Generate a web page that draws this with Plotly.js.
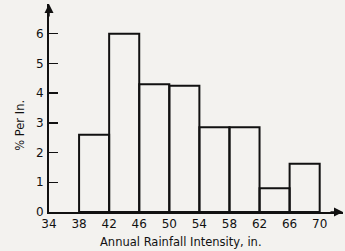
<!DOCTYPE html>
<html>
<head>
<meta charset="utf-8">
<script src="https://cdn.plot.ly/plotly-3.0.1.min.js"></script>
<style>html,body{margin:0;padding:0;background:#f3f2ef;}#chart{width:345px;height:251px;}</style>
</head>
<body>
<div id="chart"></div>
<script>
// Bin edges (in.) and densities (% per in.)
const binStarts = [38, 42, 46, 50, 54, 58, 62, 66];
const binWidth = 4;
const percentPerIn = [2.6, 6.0, 4.3, 4.25, 2.85, 2.85, 0.8, 1.62];
const xTicks = [34, 38, 42, 46, 50, 54, 58, 62, 66, 70];
const yTicks = [0, 1, 2, 3, 4, 5, 6];

const centers = binStarts.map(s => s + binWidth / 2);

const trace = {
  type: 'bar',
  x: centers,
  y: percentPerIn,
  width: binStarts.map(() => binWidth),
  marker: {color: 'rgba(0,0,0,0)', line: {color: '#111', width: 2}},
  hoverinfo: 'none'
};

const font = {family: 'DejaVu Sans, sans-serif', color: '#111'};

const layout = {
  width: 345, height: 251,
  margin: {l: 49, r: 2, t: 4, b: 39, pad: 0},
  paper_bgcolor: '#f3f2ef',
  plot_bgcolor: '#f3f2ef',
  showlegend: false,
  bargap: 0,
  xaxis: {
    range: [34, 73.1],
    tickvals: xTicks,
    ticktext: xTicks.map(String),
    ticks: '',
    showgrid: false, zeroline: false,
    showline: true, linecolor: '#111', linewidth: 2,
    tickfont: Object.assign({size: 12}, font),
    fixedrange: true
  },
  yaxis: {
    range: [0, 7.0],
    tickvals: yTicks,
    ticktext: yTicks.map(String),
    ticks: 'inside', ticklen: 9, tickwidth: 1.5, tickcolor: '#111',
    showgrid: false, zeroline: false,
    showline: true, linecolor: '#111', linewidth: 2,
    tickfont: Object.assign({size: 12}, font),
    ticklabelstandoff: 1,
    fixedrange: true
  },
  annotations: [
    {xref: 'paper', yref: 'paper', x: 0.5, y: 0, yshift: -21, xshift: -15,
     text: 'Annual Rainfall Intensity, in.', showarrow: false,
     font: Object.assign({size: 11.5}, font), yanchor: 'top'},
    {xref: 'paper', yref: 'y', x: 0, y: 2.9, xshift: -38,
     text: '% Per In.', showarrow: false, textangle: -90,
     font: Object.assign({size: 11.5}, font)},
    {xref: 'paper', yref: 'paper', x: 1, y: 0, ax: -14, ay: 0, axref: 'pixel', ayref: 'pixel',
     text: '', showarrow: true, arrowhead: 2, arrowsize: 1.2, arrowwidth: 1.5, arrowcolor: '#111'},
    {xref: 'paper', yref: 'paper', x: 0, y: 1, ax: 0, ay: 14, axref: 'pixel', ayref: 'pixel',
     text: '', showarrow: true, arrowhead: 2, arrowsize: 1.2, arrowwidth: 1.5, arrowcolor: '#111'}
  ]
};

Plotly.newPlot('chart', [trace], layout, {displayModeBar: false, staticPlot: true});
</script>
</body>
</html>
